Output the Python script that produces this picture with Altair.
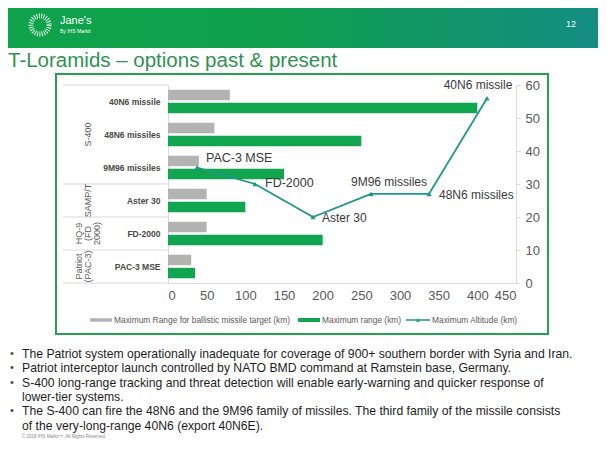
import altair as alt
import pandas as pd

# ---------------- data ----------------
systems = ["PAC-3 MSE", "FD-2000", "Aster 30", "9M96 missiles", "48N6 missiles", "40N6 missile"]
ballistic_range = [30, 50, 50, 40, 60, 80]
max_range = [35, 200, 100, 150, 250, 400]
max_altitude = [35, 30, 20, 27, 27, 56]

series_names = [
    "Maximum Range for ballistic missile target (km)",
    "Maximum range (km)",
    "Maximum Altitude (km)",
]

group_names = ["S-400", "SAMP/T", "HQ-9\n(FD\n2000)", "Patriot\n(PAC-3)"]
group_members = [
    ["40N6 missile", "48N6 missiles", "9M96 missiles"],
    ["Aster 30"],
    ["FD-2000"],
    ["PAC-3 MSE"],
]

x_ticks = [0, 50, 100, 150, 200, 250, 300, 350, 400, 450]
y2_ticks = [0, 10, 20, 30, 40, 50, 60]

title_text = "T-Loramids \u2013 options past & present"
page_number = "12"
logo_name = "Jane's"
logo_sub = "By IHS Markit"
copyright_text = "\u00a9 2018 IHS Markit\u2122. All Rights Reserved."
bullets = [
    ["The Patriot system operationally inadequate for coverage of 900+ southern border with Syria and Iran."],
    ["Patriot interceptor launch controlled by NATO BMD command at Ramstein base, Germany."],
    ["S-400 long-range tracking and threat detection will enable early-warning and quicker response of",
     "lower-tier systems."],
    ["The S-400 can fire the 48N6 and the 9M96 family of missiles. The third family of the missile consists",
     "of the very-long-range 40N6 (export 40N6E)."],
]

# ---------------- style ----------------
FONT = "Liberation Sans"
GRAY = "#b3b3b3"
GREEN = "#12a550"
TEAL = "#1e978d"
AXIS_GRAY = "#d9d9d9"
TXT = "#595959"
W, H = 348, 198
OX, OY = 168, 85  # page position of plot origin


def px(v):
    return v - OX


def py(v):
    return v - OY


bar_order = systems[::-1]
bar_rows = []
for s, b, r in zip(systems, ballistic_range, max_range):
    bar_rows.append({"system": s, "series": series_names[0], "value": b})
    bar_rows.append({"system": s, "series": series_names[1], "value": r})
bar_df = pd.DataFrame(bar_rows)

yaxis = alt.Axis(title=None, ticks=False, grid=False, labelFontSize=8.5, labelFontWeight="bold",
                 labelColor="#4a4a42", labelPadding=8, domainColor=AXIS_GRAY, labelFont=FONT)
yscale = alt.Scale(paddingInner=0, paddingOuter=0)


def ycat(**kw):
    return alt.Y("system:N", sort=bar_order, scale=yscale, axis=yaxis, **kw)


bars = alt.Chart(bar_df).mark_bar().encode(
    x=alt.X("value:Q", scale=alt.Scale(domain=[0, 450], nice=False),
            axis=alt.Axis(values=x_ticks, title=None, grid=False, ticks=False, domainColor=AXIS_GRAY,
                          labelFontSize=13, labelColor=TXT, labelPadding=6, labelFont=FONT)),
    y=ycat(),
    yOffset=alt.YOffset("series:N", sort=series_names[:2],
                        scale=alt.Scale(paddingInner=0.2, paddingOuter=0.36)),
    color=alt.Color("series:N", scale=alt.Scale(domain=series_names[:2], range=[GRAY, GREEN]), legend=None),
)

div_df = pd.DataFrame({"system": [m[-1] for m in group_members]})
rules_bottom = alt.Chart(div_df).mark_rule(color=AXIS_GRAY, strokeWidth=1).encode(
    y=ycat(bandPosition=1), x=alt.value(px(63)), x2=alt.value(0))
top_df = pd.DataFrame({"system": [group_members[0][0]]})
rule_top = alt.Chart(top_df).mark_rule(color=AXIS_GRAY, strokeWidth=1).encode(
    y=ycat(bandPosition=0), x=alt.value(px(63)), x2=alt.value(0))

group_layers = []
for name, members in zip(group_names, group_members):
    gx = px(88) if "\n" not in name else px(79)
    gdf = pd.DataFrame({"system": [members[len(members) // 2]], "label": [name]})
    group_layers.append(
        alt.Chart(gdf).mark_text(angle=270, lineBreak="\n", fontSize=9, color=TXT, font=FONT,
                                 align="center", baseline="middle", lineHeight=9).encode(
            y=ycat(), x=alt.value(gx), text="label:N"))

bar_group = alt.layer(bars, rules_bottom, rule_top, *group_layers)

# ---------------- line (secondary axes) ----------------
alt_df = pd.DataFrame({"system": systems, "altitude": max_altitude})
xline = alt.X("system:N", sort=systems, scale=alt.Scale(type="point", padding=0.5), axis=None)
yline = alt.Y("altitude:Q", scale=alt.Scale(domain=[0, 60], nice=False),
              axis=alt.Axis(orient="right", values=y2_ticks, title=None, grid=False, tickSize=4,
                            tickColor=AXIS_GRAY, domainColor=AXIS_GRAY, labelFontSize=13,
                            labelColor=TXT, labelPadding=5, labelFont=FONT))
line_base = alt.Chart(alt_df).encode(x=xline, y=yline)
line = line_base.mark_line(color=TEAL, strokeWidth=1.8)
pts = line_base.mark_point(shape="triangle-up", filled=True, size=28, color=TEAL, opacity=1)

label_style = {
    "PAC-3 MSE": dict(dx=9, dy=-10, align="left", fontSize=12.5),
    "FD-2000": dict(dx=10, dy=-1, align="left", fontSize=12.5),
    "Aster 30": dict(dx=9, dy=1, align="left", fontSize=12),
    "9M96 missiles": dict(dx=18, dy=-12, align="center", fontSize=12),
    "48N6 missiles": dict(dx=10, dy=1, align="left", fontSize=12),
    "40N6 missile": dict(dx=-9, dy=-13, align="center", fontSize=12),
}
line_labels = []
for s in systems:
    st = label_style[s]
    line_labels.append(
        line_base.mark_text(baseline="middle", color="#3a3a3a", font=FONT, **st)
        .encode(text="system:N")
        .transform_filter(alt.datum.system == s))

line_group = alt.layer(line, pts, *line_labels)

# ---------------- slide decorations ----------------
one = pd.DataFrame({"k": [0]})
deco = []
grad = alt.LinearGradient(gradient="linear", x1=0, x2=1, y1=0, y2=0,
                          stops=[alt.GradientStop(color="#0ea34a", offset=0),
                                 alt.GradientStop(color="#10a04c", offset=0.45),
                                 alt.GradientStop(color="#138d83", offset=1)])
deco.append(alt.Chart(one).mark_rect(color=grad).encode(
    x=alt.value(px(8)), x2=alt.value(px(599)), y=alt.value(py(8)), y2=alt.value(py(48))))
deco.append(alt.Chart(one).mark_point(shape="circle", size=330, stroke="white", strokeWidth=5,
                                      strokeDash=[1, 1.3], opacity=0.85, filled=False).encode(
    x=alt.value(px(40)), y=alt.value(py(25))))
deco.append(alt.Chart(one).mark_text(align="left", baseline="middle", fontSize=11, color="white",
                                     font=FONT).encode(
    x=alt.value(px(60)), y=alt.value(py(21)), text=alt.value(logo_name)))
deco.append(alt.Chart(one).mark_text(align="left", baseline="middle", fontSize=5, color="white",
                                     font=FONT).encode(
    x=alt.value(px(60)), y=alt.value(py(31)), text=alt.value(logo_sub)))
deco.append(alt.Chart(one).mark_text(align="center", baseline="middle", fontSize=9, color="white",
                                     font=FONT).encode(
    x=alt.value(px(571)), y=alt.value(py(24)), text=alt.value(page_number)))
deco.append(alt.Chart(one).mark_text(align="left", baseline="alphabetic", fontSize=20.5,
                                     color="#2f9254", font=FONT).encode(
    x=alt.value(px(8)), y=alt.value(py(67)), text=alt.value(title_text)))
deco.append(alt.Chart(one).mark_rect(filled=False, stroke="#27a151", strokeWidth=2).encode(
    x=alt.value(px(56)), x2=alt.value(px(548)), y=alt.value(py(74)), y2=alt.value(py(334))))

# legend
LEG_Y = py(320)
legend_items = [
    (series_names[0], GRAY, 3.5, 90, 112, False),
    (series_names[1], GREEN, 4, 298, 320, False),
    (series_names[2], TEAL, 1.5, 406, 430, True),
]
for name, col, sw, xa, xb, tri in legend_items:
    deco.append(alt.Chart(one).mark_rule(color=col, strokeWidth=sw).encode(
        x=alt.value(px(xa)), x2=alt.value(px(xb)), y=alt.value(LEG_Y)))
    if tri:
        deco.append(alt.Chart(one).mark_point(shape="triangle-up", filled=True, size=16, color=col,
                                              opacity=1).encode(
            x=alt.value(px((xa + xb) / 2)), y=alt.value(LEG_Y)))
    deco.append(alt.Chart(one).mark_text(align="left", baseline="middle", fontSize=8.4, color=TXT,
                                         font=FONT).encode(
        x=alt.value(px(xb + 2)), y=alt.value(LEG_Y), text=alt.value(name)))

# bullets
yy = 354
for lines in bullets:
    deco.append(alt.Chart(one).mark_text(align="left", baseline="middle", fontSize=11, color="#444444",
                                         font=FONT).encode(
        x=alt.value(px(10)), y=alt.value(py(yy)), text=alt.value("\u2022")))
    for ln in lines:
        deco.append(alt.Chart(one).mark_text(align="left", baseline="middle", fontSize=12.2,
                                             color="#1e1e1e", font=FONT).encode(
            x=alt.value(px(22)), y=alt.value(py(yy)), text=alt.value(ln)))
        yy += 14.3
deco.append(alt.Chart(one).mark_text(align="left", baseline="middle", fontSize=4.5, color="#888888",
                                     font=FONT).encode(
    x=alt.value(px(22)), y=alt.value(py(437)), text=alt.value(copyright_text)))

chart = alt.layer(*deco, bar_group, line_group).resolve_scale(
    x="independent", y="independent"
).properties(
    width=W, height=H,
    autosize=alt.AutoSizeParams(type="none"),
    padding={"left": OX - 8, "top": OY - 8, "right": 590 - (OX - 8) - W, "bottom": 432 - (OY - 8) - H},
).configure_view(stroke=None)

chart.save("out.html", embed_options={"renderer": "svg", "actions": False})
